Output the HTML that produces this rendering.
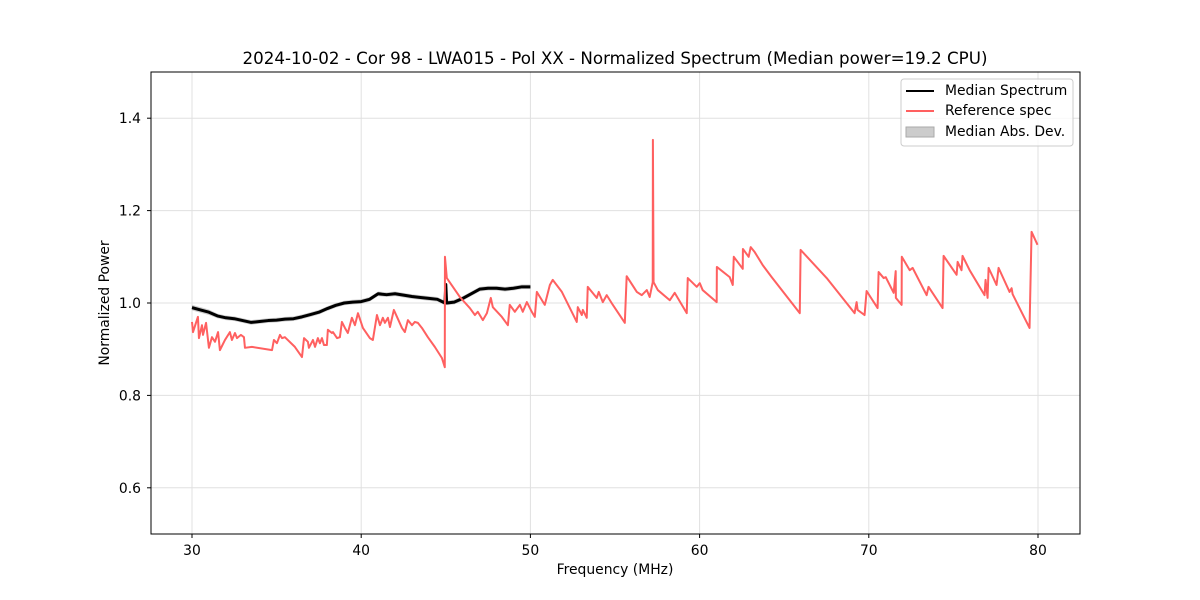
<!DOCTYPE html>
<html><head><meta charset="utf-8"><style>
body{margin:0;background:#fff;}
svg{display:block;font-family:"DejaVu Sans","Liberation Sans",sans-serif;}
</style></head><body>
<svg id="chart" width="1200" height="600" xmlns="http://www.w3.org/2000/svg">
<rect width="1200" height="600" fill="#fff"/>
<text x="615" y="64" text-anchor="middle" font-size="16.7">2024-10-02 - Cor 98 - LWA015 - Pol XX - Normalized Spectrum (Median power=19.2 CPU)</text>
<g id="grid"></g><g id="axes"></g><g id="series"></g>
<rect x="151" y="72" width="929" height="462" fill="none" stroke="#000" stroke-width="1"/>
<text x="615" y="574" text-anchor="middle" font-size="13.9">Frequency (MHz)</text>
<text transform="translate(109,303) rotate(-90)" text-anchor="middle" font-size="13.9">Normalized Power</text>
<g>
<rect x="901" y="79" width="172" height="67" rx="3" fill="#fff" fill-opacity="0.8" stroke="#ccc"/>
<line x1="906" y1="91" x2="934" y2="91" stroke="#000" stroke-width="2"/>
<text x="945" y="95" font-size="13.9">Median Spectrum</text>
<line x1="906" y1="111" x2="934" y2="111" stroke="#ff6060" stroke-width="2"/>
<text x="945" y="115" font-size="13.9">Reference spec</text>
<rect x="906" y="127" width="28" height="10" fill="#ccc" stroke="#aaa"/>
<text x="945" y="136" font-size="13.9">Median Abs. Dev.</text>
</g>
</svg>
<script>
const xTicks=[30,40,50,60,70,80];
const yTicks=[0.6,0.8,1.0,1.2,1.4];
const refFreq=[30.00,30.06,30.35,30.41,30.59,30.65,30.83,31.00,31.18,31.36,31.54,31.65,31.95,32.24,32.36,32.54,32.66,32.89,33.07,33.13,33.54,34.73,34.84,35.02,35.20,35.32,35.49,36.08,36.50,36.62,36.85,36.91,37.15,37.27,37.44,37.56,37.68,37.80,37.97,38.03,38.27,38.33,38.57,38.74,38.86,39.04,39.21,39.45,39.63,39.81,40.10,40.51,40.69,40.93,41.11,41.28,41.40,41.58,41.70,41.93,42.41,42.58,42.76,43.00,43.17,43.35,43.59,43.94,44.35,44.77,44.94,44.95,45.06,45.83,46.42,46.72,46.89,47.19,47.43,47.66,47.78,48.31,48.67,48.78,49.08,49.38,49.55,49.79,50.08,50.26,50.38,50.85,51.15,51.32,51.86,52.74,52.80,53.04,53.10,53.33,53.39,53.92,54.04,54.28,54.51,54.87,55.58,55.69,56.29,56.58,56.88,57.05,57.23,57.24,57.28,57.53,58.24,58.53,59.24,59.30,59.83,60.01,60.18,61.01,61.02,61.78,61.96,62.02,62.55,62.56,62.90,63.02,63.26,63.73,64.26,65.92,65.97,67.51,69.16,69.28,69.34,69.75,69.87,70.52,70.58,70.88,71.00,71.47,71.59,71.60,71.94,71.95,72.42,72.59,73.42,73.53,74.36,74.42,75.19,75.25,75.48,75.54,75.96,76.84,76.90,77.02,77.08,77.55,77.67,78.32,78.44,78.50,79.50,79.62,79.97];
const refPower=[0.959,0.937,0.970,0.924,0.952,0.931,0.957,0.903,0.926,0.916,0.937,0.898,0.920,0.937,0.920,0.935,0.924,0.931,0.926,0.903,0.905,0.898,0.920,0.913,0.931,0.924,0.926,0.905,0.883,0.924,0.916,0.903,0.920,0.905,0.924,0.913,0.924,0.909,0.909,0.942,0.935,0.937,0.924,0.926,0.959,0.946,0.935,0.968,0.952,0.978,0.946,0.924,0.920,0.974,0.952,0.968,0.957,0.968,0.948,0.985,0.946,0.937,0.963,0.952,0.959,0.957,0.946,0.926,0.905,0.881,0.861,1.100,1.054,1.013,0.989,0.974,0.981,0.963,0.978,1.011,0.991,0.970,0.952,0.996,0.981,0.996,0.981,1.002,0.981,0.970,1.024,0.996,1.039,1.050,1.024,0.959,0.991,0.974,0.985,0.968,1.035,1.011,1.024,1.002,1.017,0.996,0.957,1.058,1.024,1.017,1.028,1.013,1.045,1.353,1.045,1.028,1.006,1.022,0.978,1.054,1.035,1.043,1.028,1.002,1.078,1.056,1.039,1.100,1.074,1.117,1.100,1.121,1.110,1.082,1.056,0.978,1.115,1.054,0.978,1.002,0.985,0.974,1.026,0.989,1.067,1.054,1.056,1.022,1.069,1.011,0.996,1.100,1.071,1.076,1.017,1.035,0.989,1.102,1.061,1.089,1.071,1.102,1.071,1.017,1.050,1.011,1.076,1.039,1.076,1.024,1.032,1.019,0.946,1.154,1.126];
const medFreq=[30,30.5,31,31.5,32,32.5,33,33.5,34,34.5,35,35.5,36,36.5,37,37.5,38,38.5,39,39.5,40,40.5,41,41.5,42,42.5,43,43.5,44,44.5,44.95,45.0,45.05,45.5,46,46.5,47,47.5,48,48.5,49,49.5,50];
const medPower=[0.990,0.985,0.980,0.972,0.968,0.966,0.962,0.958,0.960,0.962,0.963,0.965,0.966,0.970,0.975,0.980,0.988,0.995,1.000,1.002,1.003,1.008,1.020,1.018,1.020,1.017,1.014,1.012,1.010,1.008,1.000,1.040,1.000,1.002,1.010,1.020,1.030,1.032,1.032,1.030,1.032,1.035,1.035];
const medDev=[0.006,0.006,0.006,0.005,0.005,0.005,0.005,0.005,0.005,0.005,0.005,0.005,0.005,0.005,0.005,0.005,0.005,0.005,0.005,0.005,0.005,0.005,0.005,0.005,0.005,0.005,0.005,0.005,0.005,0.005,0.005,0.005,0.005,0.005,0.005,0.005,0.005,0.005,0.005,0.005,0.005,0.005,0.005];
const NS="http://www.w3.org/2000/svg";
const X=f=>192+(f-30)*(1038-192)/50;
const Y=p=>72+(1.5-p)*462;
function mk(tag,attrs,parent){const e=document.createElementNS(NS,tag);for(const k in attrs)e.setAttribute(k,attrs[k]);parent.appendChild(e);return e;}
const grid=document.getElementById('grid'),axes=document.getElementById('axes'),ser=document.getElementById('series');
xTicks.forEach(t=>{
  const g=mk('line',{x1:X(t),x2:X(t),y1:72,y2:534,stroke:'#e0e0e0'},grid);
  
  
  const tk=mk('line',{x1:X(t),x2:X(t),y1:534,y2:538,stroke:'#000'},axes);
  
  
  const tx=mk('text',{x:X(t),y:555,'text-anchor':'middle','font-size':13.9},axes);
  tx.textContent=t;
  
  
});
yTicks.forEach(t=>{
  const g=mk('line',{x1:151,x2:1080,y1:Y(t),y2:Y(t),stroke:'#e0e0e0'},grid);
  
  
  const tk=mk('line',{x1:147,x2:151,y1:Y(t),y2:Y(t),stroke:'#000'},axes);
  
  
  const tx=mk('text',{x:141,y:Y(t)+5,'text-anchor':'end','font-size':13.9},axes);
  tx.textContent=t.toFixed(1);
  
  
});
let up=medFreq.map((f,i)=>X(f)+','+Y(medPower[i]+medDev[i]));
let dn=medFreq.map((f,i)=>X(f)+','+Y(medPower[i]-medDev[i])).reverse();
const band=mk('polygon',{points:up.concat(dn).join(' '),fill:'#bbb','fill-opacity':0.7},ser);


const med=mk('polyline',{points:medFreq.map((f,i)=>X(f)+','+Y(medPower[i])).join(' '),fill:'none',stroke:'#000','stroke-width':3,'stroke-linejoin':'round'},ser);


const ref=mk('polyline',{points:refFreq.map((f,i)=>X(f)+','+Y(refPower[i])).join(' '),fill:'none',stroke:'#ff6060','stroke-width':2,'stroke-linejoin':'round'},ser);


</script>
</body></html>
